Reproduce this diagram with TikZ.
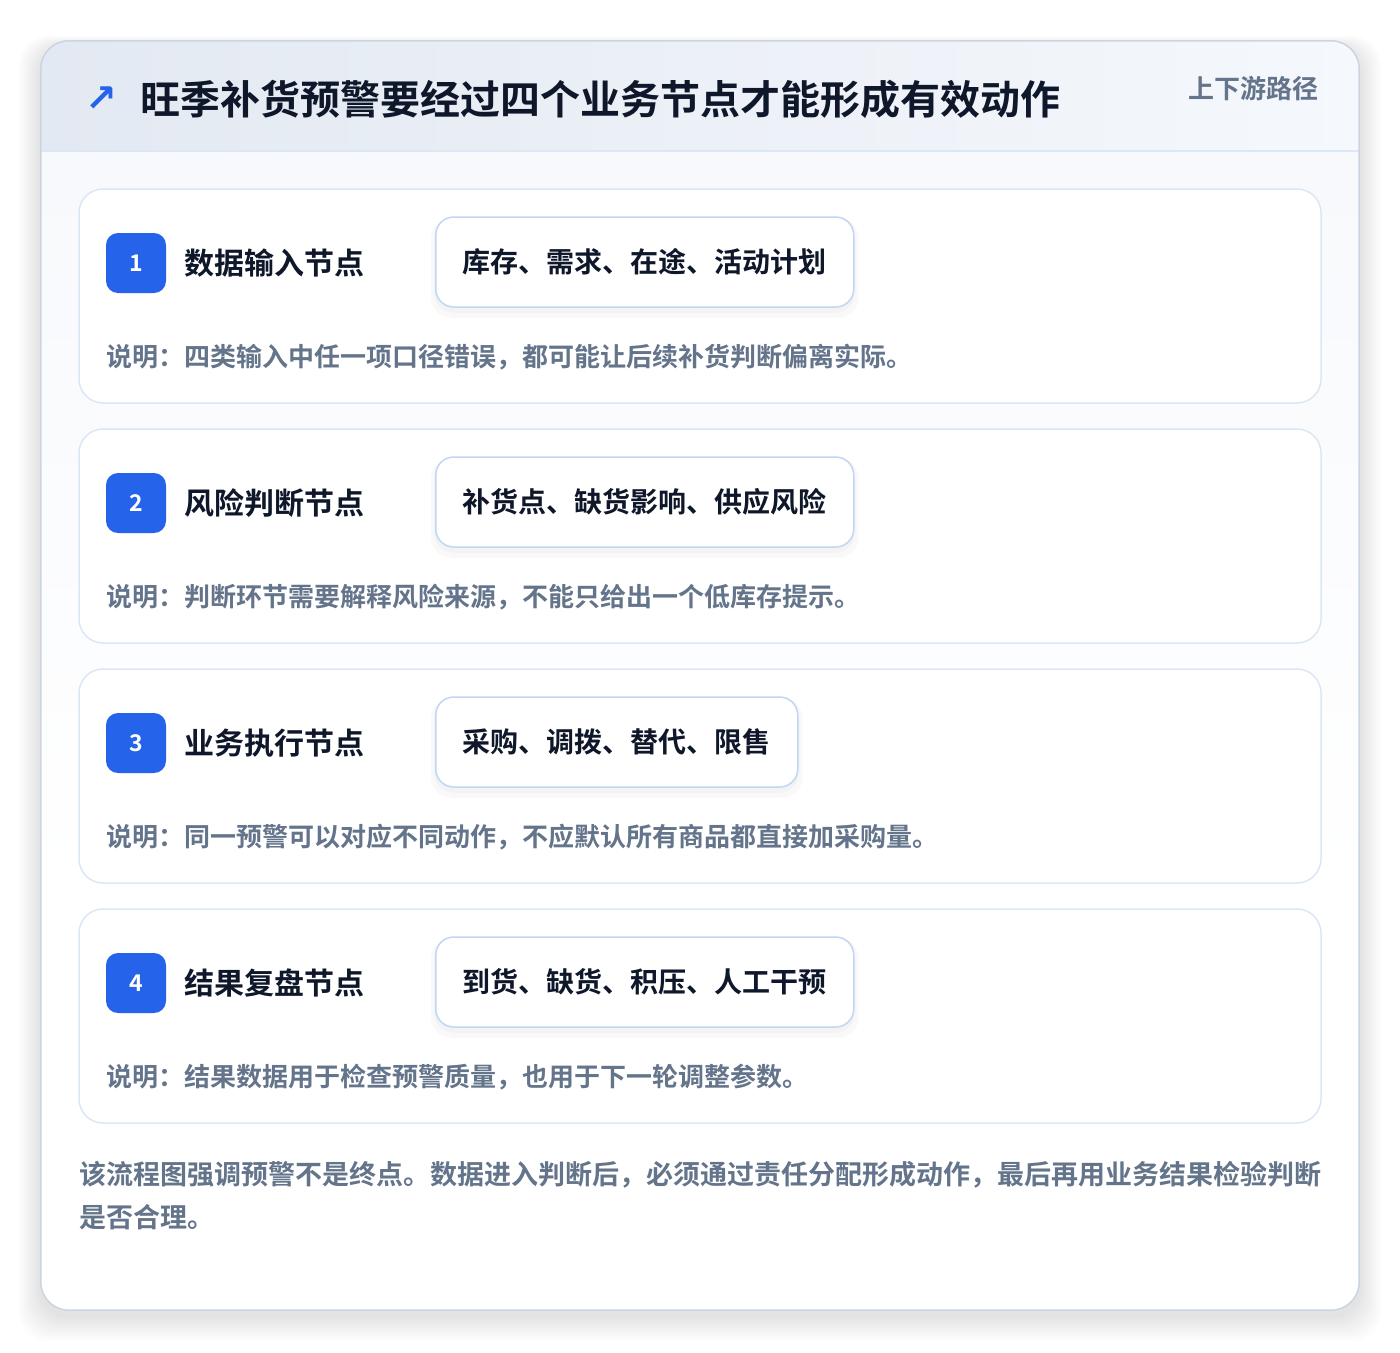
\documentclass[tikz,border=0pt]{standalone}
\usepackage{fontspec}
\newfontfamily\cjk{Noto Sans CJK SC}[BoldFont={Noto Sans CJK SC Bold}]
\newfontfamily\symf{DejaVu Sans}
\usetikzlibrary{positioning}
\pgfdeclarelayer{bgl}
\pgfdeclarelayer{cardl}
\pgfdeclarelayer{shadowl}
\pgfsetlayers{bgl,cardl,shadowl,main}
\definecolor{blue1}{HTML}{2563EB}
\definecolor{dark}{HTML}{0F172A}
\definecolor{slate}{HTML}{64748B}
\definecolor{cardb}{HTML}{DBE7F6}
\definecolor{tagb}{HTML}{BFD7F3}
\definecolor{outerb}{HTML}{CBD5E1}
\definecolor{headl}{HTML}{E3E9F2}
\definecolor{headr}{HTML}{F5F8FC}
\definecolor{bodyt}{HTML}{F7F9FC}
\definecolor{headline}{HTML}{DCE7F5}
\tikzset{
  fs/.style={font={\cjk\bfseries\fontsize{#1}{#1}\selectfont}},
  card/.style={draw=cardb, line width=1.5pt, fill=white, rounded corners=24pt, minimum width=1242pt, minimum height=214pt, inner sep=0pt},
  badge/.style={fill=blue1, rounded corners=12pt, minimum width=60pt, minimum height=60pt, inner sep=0pt, text=white, fs=23},
  ntitle/.style={anchor=west, inner sep=0pt, text=dark, fs=30},
  tag/.style={draw=tagb, line width=1.5pt, fill=white, rounded corners=18pt, minimum height=90pt, inner xsep=27pt, inner ysep=0pt, anchor=west, text=dark, fs=28},
  desc/.style={anchor=west, inner sep=0pt, text=slate, fs=26},
  tshadow/.style={fill=black, opacity=#1, rounded corners=20pt},
}
\begin{document}
\begin{tikzpicture}[x=1pt,y=-1pt]
\useasboundingbox (0,0) rectangle (1400,1352);
\begin{pgfonlayer}{bgl}
\fill[white] (0,0) rectangle (1400,1352);
% outer shadow
\foreach \i in {1,...,14}{
  \fill[black, opacity=0.007, rounded corners=30pt] (41-1.6*\i,41-0.8*\i+6) rectangle (1359+1.6*\i,1310+1.8*\i+6);
}
% outer card
\node[fill=white, rounded corners=28pt, minimum width=1318pt, minimum height=1269pt, inner sep=0pt] (outer) at (700,675.5) {};
\begin{scope}
  \clip[rounded corners=28pt] (41,41) rectangle (1359,1310);
  \shade[top color=bodyt, bottom color=white] (41,151) rectangle (1359,900);
  \shade[left color=headl, right color=headr] (41,41) rectangle (1359,151);
  \draw[headline, line width=1.5pt] (41,151) -- (1359,151);
\end{scope}
\draw[outerb, line width=1.5pt, rounded corners=28pt] (outer.south west) rectangle (outer.north east);
\end{pgfonlayer}
% header
\node[text=blue1, inner sep=0pt, font={\symf\bfseries\fontsize{38}{38}\selectfont}] (arrow) at (101,99) {↗};
\node[anchor=west, inner sep=0pt, text=dark, fs=40] (title) at (140,99) {旺季补货预警要经过四个业务节点才能形成有效动作};
\node[anchor=east, inner sep=0pt, text=slate, fs=26] (path) at (1319,89) {上下游路径};
% cards
\foreach \i/\t/\g/\d in {
 1/数据输入节点/库存、需求、在途、活动计划/说明：四类输入中任一项口径错误，都可能让后续补货判断偏离实际。,
 2/风险判断节点/补货点、缺货影响、供应风险/说明：判断环节需要解释风险来源，不能只给出一个低库存提示。,
 3/业务执行节点/采购、调拨、替代、限售/说明：同一预警可以对应不同动作，不应默认所有商品都直接加采购量。,
 4/结果复盘节点/到货、缺货、积压、人工干预/说明：结果数据用于检查预警质量，也用于下一轮调整参数。}{
  \pgfmathsetmacro{\top}{189+240*(\i-1)}
  \begin{pgfonlayer}{cardl}
  \node[card] (card\i) at (700,\top+107) {};
  \end{pgfonlayer}
  \node[badge] (badge\i) at (136,\top+74) {\i};
  \node[ntitle] (name\i) at (184,\top+74) {\t};
  \node[tag] (tag\i) at (435,\top+73) {\g};
  \begin{pgfonlayer}{shadowl}
  \fill[tshadow=0.025] ([xshift=-4pt,yshift=-10pt]tag\i.south west) rectangle ([xshift=4pt,yshift=-2pt]tag\i.north east);
  \fill[tshadow=0.025] ([xshift=-1pt,yshift=-5pt]tag\i.south west) rectangle ([xshift=1pt,yshift=-3pt]tag\i.north east);
  \end{pgfonlayer}
  \node[desc] (desc\i) at (106,\top+168) {\d};
}
% footer
\node[desc, fs=27] (foot1) at (79,1175) {该流程图强调预警不是终点。数据进入判断后，必须通过责任分配形成动作，最后再用业务结果检验判断};
\node[desc, fs=27] (foot2) at (79,1217) {是否合理。};
\end{tikzpicture}
\end{document}
